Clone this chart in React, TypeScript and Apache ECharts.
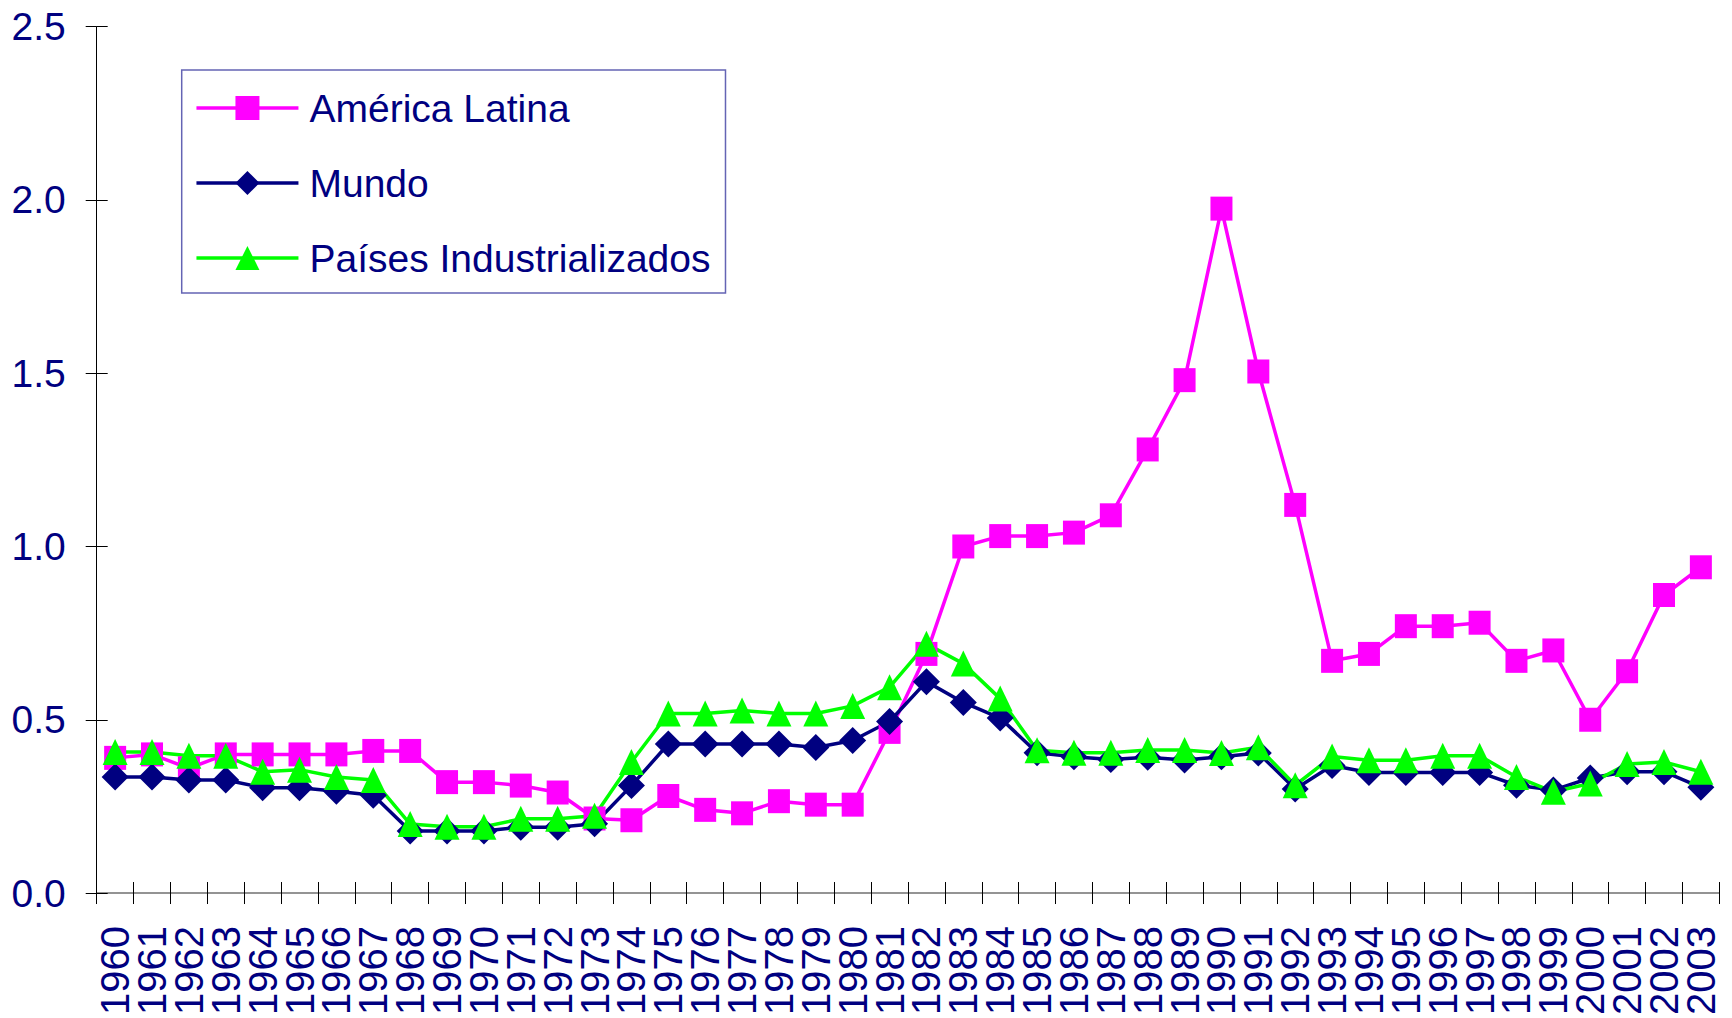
import React, { useEffect, useRef } from "react";
import * as echarts from "echarts";

const years = [
  "1960", "1961", "1962", "1963", "1964", "1965", "1966", "1967", "1968", "1969",
  "1970", "1971", "1972", "1973", "1974", "1975", "1976", "1977", "1978", "1979",
  "1980", "1981", "1982", "1983", "1984", "1985", "1986", "1987", "1988", "1989",
  "1990", "1991", "1992", "1993", "1994", "1995", "1996", "1997", "1998", "1999",
  "2000", "2001", "2002", "2003",
];

const americaLatina = [
  0.39, 0.4, 0.36, 0.4, 0.4, 0.4, 0.4, 0.41, 0.41, 0.32,
  0.32, 0.31, 0.29, 0.215, 0.21, 0.28, 0.24, 0.23, 0.265, 0.255,
  0.255, 0.465, 0.69, 1.0, 1.03, 1.03, 1.04, 1.09, 1.28, 1.48,
  1.975, 1.505, 1.12, 0.67, 0.69, 0.77, 0.77, 0.78, 0.67, 0.7,
  0.5, 0.64, 0.86, 0.94,
];

const mundo = [
  0.335, 0.335, 0.326, 0.326, 0.304, 0.304, 0.294, 0.282, 0.179, 0.179,
  0.179, 0.19, 0.19, 0.2, 0.31, 0.43, 0.43, 0.43, 0.43, 0.42,
  0.44, 0.495, 0.61, 0.55, 0.505, 0.405, 0.393, 0.385, 0.392, 0.384,
  0.393, 0.404, 0.3, 0.368, 0.348, 0.348, 0.348, 0.348, 0.311, 0.297,
  0.332, 0.35, 0.35, 0.305,
];

const paisesIndustrializados = [
  0.407, 0.407, 0.396, 0.396, 0.35, 0.356, 0.335, 0.326, 0.199, 0.191,
  0.191, 0.214, 0.214, 0.223, 0.378, 0.518, 0.518, 0.527, 0.518, 0.518,
  0.54, 0.594, 0.719, 0.662, 0.561, 0.412, 0.405, 0.405, 0.413, 0.413,
  0.404, 0.421, 0.311, 0.394, 0.383, 0.383, 0.396, 0.396, 0.335, 0.292,
  0.316, 0.372, 0.378, 0.35,
];

const seriesNames = ["América Latina", "Mundo", "Países Industrializados"];

const yMin = 0;
const yMax = 2.5;
const yInterval = 0.5;

export default function App() {
  const ref = useRef<HTMLDivElement>(null);

  useEffect(() => {
    if (!ref.current) return;
    const chart = echarts.init(ref.current, null, { renderer: "svg" });
    const font = "'Liberation Sans', Arial, Helvetica, sans-serif";
    const navy = "#000080";

    chart.setOption({
      animation: false,
      backgroundColor: "#ffffff",
      textStyle: { fontFamily: font },
      grid: {
        left: 96.7,
        right: 12.7,
        top: 26.7,
        bottom: 123.3,
        containLabel: false,
      },
      legend: {
        orient: "vertical",
        left: 181.7,
        top: 70,
        padding: [18, 15, 15, 13],
        itemGap: 35,
        itemWidth: 102,
        itemHeight: 30,
        backgroundColor: "#ffffff",
        borderColor: "#6464b4",
        borderWidth: 1.5,
        borderRadius: 0,
        selectedMode: false,
        data: seriesNames,
        lineStyle: { width: 3.5 },
        textStyle: {
          fontFamily: font,
          fontSize: 39,
          lineHeight: 40,
          color: navy,
          padding: [0, 0, 0, 6],
        },
      },
      xAxis: [
        {
          type: "category",
          data: years,
          boundaryGap: true,
          position: "bottom",
          axisLine: { show: true, lineStyle: { color: "#707070", width: 1.5 } },
          axisTick: { show: true, length: 11, lineStyle: { color: "#000000", width: 1 } },
          axisLabel: {
            interval: 0,
            rotate: 90,
            margin: 33,
            fontSize: 40,
            fontFamily: font,
            color: navy,
          },
          splitLine: { show: false },
        },
        {
          type: "category",
          data: years,
          boundaryGap: true,
          position: "bottom",
          axisLine: { show: false },
          axisTick: { show: true, inside: true, length: 11, lineStyle: { color: "#000000", width: 1 } },
          axisLabel: { show: false },
          splitLine: { show: false },
        },
      ],
      yAxis: [
        {
          type: "value",
          min: yMin,
          max: yMax,
          interval: yInterval,
          position: "left",
          axisLine: { show: true, lineStyle: { color: "#000000", width: 1 } },
          axisTick: { show: true, length: 11, lineStyle: { color: "#000000", width: 1 } },
          axisLabel: {
            margin: 31,
            fontSize: 39,
            fontFamily: font,
            color: navy,
            formatter: (v: number) => v.toFixed(1),
          },
          splitLine: { show: false },
        },
        {
          type: "value",
          min: yMin,
          max: yMax,
          interval: yInterval,
          position: "left",
          axisLine: { show: false },
          axisTick: { show: true, inside: true, length: 11, lineStyle: { color: "#000000", width: 1 } },
          axisLabel: { show: false },
          splitLine: { show: false },
        },
      ],
      series: [
        {
          name: seriesNames[0],
          type: "line",
          data: americaLatina,
          xAxisIndex: 0,
          yAxisIndex: 0,
          symbol: "rect",
          symbolSize: [22, 24],
          showAllSymbol: true,
          lineStyle: { color: "#ff00ff", width: 3.5 },
          itemStyle: { color: "#ff00ff" },
        },
        {
          name: seriesNames[1],
          type: "line",
          data: mundo,
          xAxisIndex: 0,
          yAxisIndex: 0,
          symbol: "diamond",
          symbolSize: 27,
          showAllSymbol: true,
          lineStyle: { color: navy, width: 3.5 },
          itemStyle: { color: navy },
        },
        {
          name: seriesNames[2],
          type: "line",
          data: paisesIndustrializados,
          xAxisIndex: 0,
          yAxisIndex: 0,
          symbol: "triangle",
          symbolSize: [25, 26],
          showAllSymbol: true,
          lineStyle: { color: "#00ff00", width: 3.5 },
          itemStyle: { color: "#00ff00" },
        },
      ],
    });

    return () => chart.dispose();
  }, []);

  return (
    <div
      ref={ref}
      style={{
        position: "absolute",
        left: 0,
        top: 0,
        width: 1732,
        height: 1018,
        background: "#ffffff",
      }}
    />
  );
}
